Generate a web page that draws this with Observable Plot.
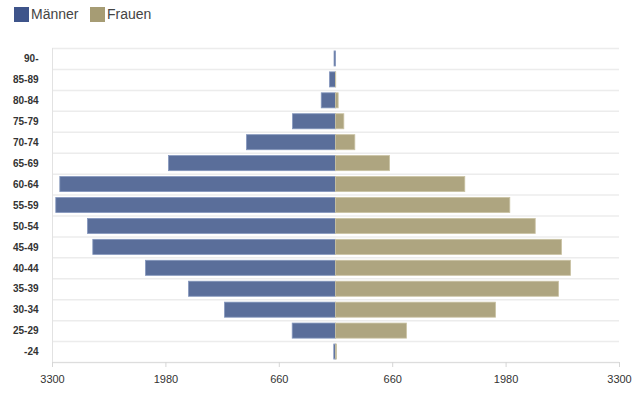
<!DOCTYPE html>
<html>
<head>
<meta charset="utf-8">
<script src="https://cdn.jsdelivr.net/npm/d3@7"></script>
<script src="https://cdn.jsdelivr.net/npm/@observablehq/plot@0.6"></script>
<style>
  html, body { margin: 0; padding: 0; background: #fff; }
  body { width: 640px; height: 397px; position: relative; overflow: hidden; font-family: "Liberation Sans", Arial, sans-serif; }
  #legend { position: absolute; left: 0; top: 0; width: 640px; height: 30px; }
  .sw { position: absolute; top: 7px; width: 15px; height: 15px; }
  .lb { position: absolute; top: 5px; font-size: 14px; color: #444; line-height: 18px; }
  #chart { position: absolute; left: 0; top: 30px; }
</style>
</head>
<body>
<div id="legend">
  <div class="sw" style="left:14px;background:#3e548a"></div>
  <div class="lb" style="left:31px">Männer</div>
  <div class="sw" style="left:90px;background:#a69c74"></div>
  <div class="lb" style="left:107px">Frauen</div>
</div>
<div id="chart"></div>
<script>
const ages = ["90-","85-89","80-84","75-79","70-74","65-69","60-64","55-59","50-54","45-49","40-44","35-39","30-34","25-29","-24"];
const maenner = [17,70,166,500,1036,1944,3209,3256,2887,2825,2212,1711,1292,504,20];
const frauen  = [0,3,31,97,225,629,1505,2029,2325,2631,2736,2596,1863,826,12];
const xTicks = [-3300,-1980,-660,660,1980,3300];

const rows = ages.map((a, i) => ({age: a, m: maenner[i], f: frauen[i]}));

const chart = Plot.plot({
  width: 640,
  height: 367,
  marginTop: 18,
  marginBottom: 35,
  marginLeft: 52,
  marginRight: 21,
  style: {fontFamily: "'Liberation Sans', Arial, sans-serif", background: "#fff"},
  x: {domain: [-3300, 3300], label: null},
  y: {domain: ages, paddingInner: 0.28, paddingOuter: 0.14, round: false, label: null},
  marks: [
    Plot.ruleY(ages, {y: d => d, dy: 10.5, stroke: "#ececec", strokeWidth: 1.5}),
    Plot.ruleY([ages[0]], {y: d => d, dy: -10.5, stroke: "#ececec", strokeWidth: 1.5}),
    Plot.ruleX([-3300], {stroke: "#e2e2e2", strokeWidth: 1}),
    Plot.barX(rows, {y: "age", x1: d => -d.m, x2: 0, fill: "#5a6e9a", stroke: "#8597bd", strokeWidth: 0.8}),
    Plot.barX(rows, {y: "age", x1: 0, x2: "f", fill: "#aea580", stroke: "#cac3a4", strokeWidth: 0.8}),
    Plot.ruleY(ages.slice(-1), {y: d => d, dy: 10.5, stroke: "#dcdcdc", strokeWidth: 1}),
    Plot.axisX({ticks: xTicks, tickFormat: d => String(Math.abs(d)), tickSize: 5, tickPadding: 8, stroke: "#d6d6d6", fill: "#333", fontSize: 11, label: null}),
    Plot.axisY({tickSize: 0, tickPadding: 14, fill: "#333", fontSize: 10, fontWeight: "bold", label: null})
  ]
});
document.getElementById("chart").appendChild(chart);
</script>
</body>
</html>
